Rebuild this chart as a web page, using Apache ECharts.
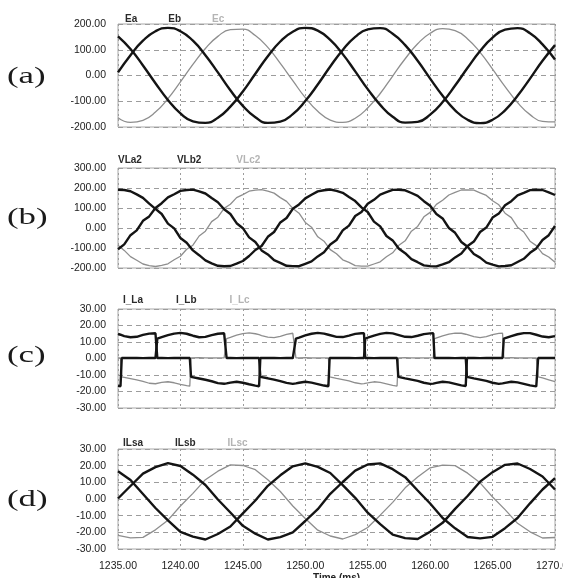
<!DOCTYPE html>
<html><head><meta charset="utf-8">
<script src="https://cdn.jsdelivr.net/npm/echarts@6/dist/echarts.min.js"></script>
<style>html,body{margin:0;padding:0;background:#fff}#c{width:563px;height:578px}</style>
</head><body><div id="c"></div>
<script>
// ---- time bases (ms) ----
const timeA = [1235,1236,1237,1238,1239,1240,1241,1242,1243,1244,1245,1246,1247,1248,1249,1250,1251,1252,1253,1254,1255,1256,1257,1258,1259,1260,1261,1262,1263,1264,1265,1266,1267,1268,1269,1270];
const timeB = [1235,1235.5,1236,1236.5,1237,1237.5,1238,1238.5,1239,1239.5,1240,1240.5,1241,1241.5,1242,1242.5,1243,1243.5,1244,1244.5,1245,1245.5,1246,1246.5,1247,1247.5,1248,1248.5,1249,1249.5,1250,1250.5,1251,1251.5,1252,1252.5,1253,1253.5,1254,1254.5,1255,1255.5,1256,1256.5,1257,1257.5,1258,1258.5,1259,1259.5,1260,1260.5,1261,1261.5,1262,1262.5,1263,1263.5,1264,1264.5,1265,1265.5,1266,1266.5,1267,1267.5,1268,1268.5,1269,1269.5,1270];
const timeC = [1235.0,1235.2,1235.3,1235.5,1236.0,1236.5,1237.0,1237.5,1238.0,1238.05,
1238.15,1238.5,1239.0,1239.5,1240.0,1240.5,1240.75,1240.85,1241.0,1241.5,
1242.0,1242.5,1243.0,1243.5,1243.6,1243.7,1244.0,1244.5,1245.0,1245.5,
1246.0,1246.3,1246.4,1246.5,1247.0,1247.5,1248.0,1248.5,1249.0,1249.15,
1249.25,1249.5,1250.0,1250.5,1251.0,1251.5,1251.85,1251.95,1252.0,1252.5,
1253.0,1253.5,1254.0,1254.5,1254.7,1254.8,1255.0,1255.5,1256.0,1256.5,
1257.0,1257.35,1257.45,1257.5,1258.0,1258.5,1259.0,1259.5,1260.0,1260.25,
1260.35,1260.5,1261.0,1261.5,1262.0,1262.5,1262.85,1262.95,1263.0,1263.5,
1264.0,1264.5,1265.0,1265.5,1265.8,1265.9,1266.0,1266.5,1267.0,1267.5,
1268.0,1268.5,1268.55,1268.65,1269.0,1269.5,1270.0];

// ---- (a) source voltages ----
const Ea = [152,103,39,-30,-95,-147,-178,-184,-164,-121,-62,7,75,132,170,185,174,138,83,16,-53,-114,-160,-183,-180,-152,-103,-39,30,95,147,178,184,164,121,62];
const Eb = [12,79,135,172,185,172,135,79,12,-57,-118,-162,-184,-179,-150,-99,-35,35,99,150,179,184,162,118,57,-12,-79,-135,-172,-185,-172,-135,-79,-12,57,118];
const Ec = [-164,-182,-174,-142,-90,-25,43,105,152,178,180,155,109,47,-20,-86,-139,-173,-182,-166,-126,-70,-2,65,123,164,182,174,142,90,25,-43,-105,-152,-178,-180];

// ---- (b) load voltages ----
const VLa2 = [191.5,190.0,184.0,168.0,150.5,122.0,96.0,70.0,22.0,-2.0,
-50.0,-74.0,-112.0,-136.0,-162.0,-176.5,-189.0,-191.0,-190.0,-178.0,
-165.0,-140.0,-110.0,-90.0,-44.0,-20.0,28.0,50.0,96.0,118.0,
148.0,166.0,183.0,189.0,192.5,185.5,176.0,155.0,134.5,103.0,
80.0,32.0,8.0,-40.0,-62.0,-104.0,-126.0,-156.0,-171.0,-187.0,
-190.5,-192.0,-182.0,-171.0,-147.0,-127.0,-90.0,-68.0,-20.0,2.0,
52.0,72.0,114.0,134.0,163.0,176.0,189.5,191.0,190.0,178.0,165.0];
const VLb2 = [-106,-82,-36,-12,36,58,100,124,153,169,
185.5,190,192,183,172.5,150,129,94,70,24,
-1,-47,-70,-112,-132,-161,-174,-189,-190.5,-191,
-179,-167,-142,-121,-82,-60,-12,12,60,80,
121,141,167,179,190.5,191,188.5,175,160.5,134,
111,70,48,0,-24,-70,-94,-130,-148,-173,
-183,-192,-190,-186,-170,-154,-124,-102,-60,-36,10];
const VLc2 = [-86,-112,-143,-161,-180,-188,-192.5,-187,-179,-159,
-141,-106,-86,-40,-16,32,54,98,119,152,
167,184,189.5,192,184,174.5,152,133,98,74,
28,4,-44,-66,-108,-129,-159,-172,-188,-190.5,
-191,-180,-169,-144,-124,-86,-64,-16,8,56,
78,118,139,165,178,190,191,189,176,163,
136,116,74,52,4,-20,-66,-88,-128,-145,-171];

// ---- (c) load currents ----
const I_La = [14.9,14.4,14.15,13.6,12.85,13.15,14.3,15.1,15.3,15.3,
0.3,0.3,0.2,0.3,0.4,0.3,0.3,-11.1,-11.3,-12.1,
-12.9,-13.8,-14.9,-15.3,-15.2,-15.1,-14.6,-14.1,-14.7,-15.6,
-16.4,-16.8,0.3,0.3,0.4,0.3,0.2,0.3,0.3,0.3,
12.1,12.7,14.0,15.0,15.5,15.1,14.4,14.15,14.0,13.1,
13.0,13.9,14.9,15.3,15.3,0.3,0.3,0.2,0.3,0.4,
0.3,0.3,-11.1,-11.2,-12.0,-12.8,-13.6,-14.7,-15.4,-15.2,
-15.05,-14.8,-14.1,-14.5,-15.4,-16.3,-16.7,0.3,0.3,0.3,
0.2,0.3,0.4,0.3,0.3,12.1,12.4,13.6,14.7,15.4,
15.4,14.4,14.3,14.0,13.3,12.9,13.6];
const I_Lb = [-16.6,-16.8,0.3,0.3,0.4,0.3,0.2,0.3,0.3,0.3,
12.1,13.0,14.2,15.1,15.5,15.0,14.4,14.15,13.8,12.9,
13.1,14.2,15.0,15.3,15.3,0.3,0.3,0.2,0.3,0.4,
0.3,0.3,-11.1,-11.2,-12.0,-12.8,-13.7,-14.8,-15.4,-15.2,
-15.1,-14.7,-14.1,-14.6,-15.5,-16.4,-16.8,0.3,0.3,0.3,
0.4,0.3,0.2,0.3,0.3,12.1,12.6,13.9,14.9,15.5,
15.2,14.5,14.3,14.15,13.15,13.0,13.8,14.8,15.25,15.3,
0.3,0.3,0.4,0.3,0.2,0.3,0.3,-11.1,-11.2,-12.0,
-12.8,-13.6,-14.7,-15.4,-15.1,-15.0,-14.8,-14.1,-14.5,-15.4,
-16.3,-16.9,-17.0,0.3,0.3,0.4,0.3];
const I_Lc = [0.4,0.4,-11.1,-11.4,-12.2,-13.0,-13.9,-15.0,-15.3,-15.2,
-15.1,-14.5,-14.1,-14.7,-15.7,-16.5,-16.8,0.4,0.4,0.5,
0.4,0.3,0.4,0.4,0.4,12.1,12.8,14.1,15.1,15.5,
15.0,14.4,14.15,13.9,13.0,12.6,13.4,14.6,15.3,15.3,
0.4,0.4,0.5,0.4,0.3,0.4,0.4,-11.1,-11.2,-12.0,
-12.8,-13.6,-14.7,-15.4,-15.2,-15.1,-14.8,-14.1,-14.5,-15.4,
-16.3,-16.7,0.4,0.4,0.5,0.4,0.3,0.4,0.4,0.4,
12.1,12.5,13.7,14.8,15.4,15.3,14.7,14.4,14.3,13.2,
12.6,13.2,14.5,15.2,15.3,0.4,0.4,0.5,0.4,0.3,
0.4,0.4,0.4,-11.1,-11.8,-12.9,-14.0];

// ---- (d) source currents ----
const ILsa = [16.6,11.4,3.0,-5.4,-12.8,-19.7,-22.6,-24.3,-21.0,-16.5,-8.6,-0.9,7.9,14.2,19.6,21.4,19.3,15.6,8.3,0.7,-8.2,-15.1,-21.4,-23.5,-24.0,-19.6,-14.3,-5.9,1.8,10.4,16.1,20.5,21.3,18.0,13.5,5.7];
const ILsb = [0.3,7.8,15.2,19.1,21.5,19.8,14.6,8.4,-0.3,-8.1,-16.1,-20.8,-24.3,-22.9,-20.0,-13.2,-6.1,3.1,10.2,17.0,20.7,21.4,17.9,13.1,5.1,-2.7,-11.4,-17.6,-22.8,-23.6,-22.7,-17.5,-11.4,-2.6,5.7,12.5];
const ILsc = [-21.8,-23.3,-23.0,-18.5,-12.7,-4.2,3.4,11.6,16.7,20.5,20.1,17.6,11.5,4.5,-4.2,-11.7,-18.7,-22.2,-24.0,-21.4,-17.1,-9.7,-2.0,6.7,13.2,18.7,20.3,20.0,15.5,9.7,1.2,-6.4,-14.6,-19.7,-23.4,-23.1];

// ---- axis ticks ----
const timeTicks = {min:1235, max:1270, step:5};
const yRanges = [{min:-200,max:200,step:100},{min:-200,max:300,step:100},{min:-30,max:30,step:10},{min:-30,max:30,step:10}];
const panelLabels = ['(a)','(b)','(c)','(d)'];
const legendNames = [['Ea','Eb','Ec'],['VLa2','VLb2','VLc2'],['I_La','I_Lb','I_Lc'],['ILsa','ILsb','ILsc']];

// ---- layout ----
const gridTops = [24,168,309,449];
const gridHeights = [103,100,99,100];
const legendTops = [9,150,290,433];
const legendLefts = [115,108,113,113];
const legendGaps = [26,30,28,27];
const labelY = [77,218,356,500];

const DARK = '#141414', GRAY = '#8e8e8e';
const pairs = (t, v) => t.map((x, i) => [x, v[i]]);

const grids = gridTops.map((top, i) => ({
  left: 118, width: 437, top: top, height: gridHeights[i],
  show: true, borderColor: '#a8a8a8', borderWidth: 1, backgroundColor: '#fff',
  outerBoundsMode: 'none', containLabel: false
}));

const xAxes = gridTops.map((_, i) => ({
  type: 'value', gridIndex: i, min: timeTicks.min, max: timeTicks.max, interval: timeTicks.step,
  axisLine: {show: false}, axisTick: {show: false},
  axisLabel: {show: i === 3, formatter: v => v.toFixed(2), fontSize: 10.5, color: '#222',
              fontFamily: 'Liberation Sans', margin: 12},
  splitLine: {show: true, lineStyle: {color: '#9c9c9c', type: [2, 3], width: 1}},
  name: i === 3 ? 'Time (ms)' : '', nameLocation: 'middle', nameGap: 20,
  nameTextStyle: {fontSize: 10, fontWeight: 'bold', color: '#222', fontFamily: 'Liberation Sans'}
}));

const yAxes = yRanges.map((r, i) => ({
  type: 'value', gridIndex: i, min: r.min, max: r.max, interval: r.step,
  axisLine: {show: false}, axisTick: {show: false},
  axisLabel: {formatter: v => v.toFixed(2), fontSize: 10.5, color: '#222',
              fontFamily: 'Liberation Sans', margin: 12},
  splitLine: {show: true, lineStyle: {color: '#9c9c9c', type: [5, 4], width: 1}}
}));

function line(name, idx, data, thick, smooth) {
  return {
    name: name, type: 'line', xAxisIndex: idx, yAxisIndex: idx, data: data,
    showSymbol: false, symbol: 'none', smooth: smooth, animation: false,
    z: thick ? 3 : 2,
    lineStyle: {color: thick ? DARK : GRAY, width: thick ? 2.4 : 1.3},
    itemStyle: {color: thick ? DARK : GRAY}
  };
}

const series = [
  line('Ec', 0, pairs(timeA, Ec), false, true),
  line('Ea', 0, pairs(timeA, Ea), true, true),
  line('Eb', 0, pairs(timeA, Eb), true, true),
  line('VLc2', 1, pairs(timeB, VLc2), false, false),
  line('VLa2', 1, pairs(timeB, VLa2), true, false),
  line('VLb2', 1, pairs(timeB, VLb2), true, false),
  line('I_Lc', 2, pairs(timeC, I_Lc), false, false),
  line('I_La', 2, pairs(timeC, I_La), true, false),
  line('I_Lb', 2, pairs(timeC, I_Lb), true, false),
  line('ILsc', 3, pairs(timeA, ILsc), false, false),
  line('ILsa', 3, pairs(timeA, ILsa), true, false),
  line('ILsb', 3, pairs(timeA, ILsb), true, false)
];

const legends = legendNames.map((names, i) => ({
  left: legendLefts[i], top: legendTops[i], orient: 'horizontal',
  icon: 'none', itemWidth: 0, itemHeight: 10, itemGap: legendGaps[i],
  selectedMode: false,
  textStyle: {fontSize: 10, fontWeight: 'bold', fontFamily: 'Liberation Sans'},
  data: names.map((n, j) => ({name: n, textStyle: {color: j < 2 ? '#2a2a2a' : '#b4b4b4'}}))
}));

const graphics = panelLabels.map((t, i) => ({
  type: 'text', x: 7, y: labelY[i], scaleX: 1.45,
  style: {text: t, font: '24px "Liberation Serif"', fill: '#1a1a1a',
          align: 'left', verticalAlign: 'middle', textAlign: 'left', textVerticalAlign: 'middle'}
}));

const chart = echarts.init(document.getElementById('c'), null, {renderer: 'canvas'});
chart.setOption({
  backgroundColor: '#ffffff',
  animation: false,
  grid: grids, xAxis: xAxes, yAxis: yAxes,
  legend: legends, series: series, graphic: graphics
});
</script></body></html>
